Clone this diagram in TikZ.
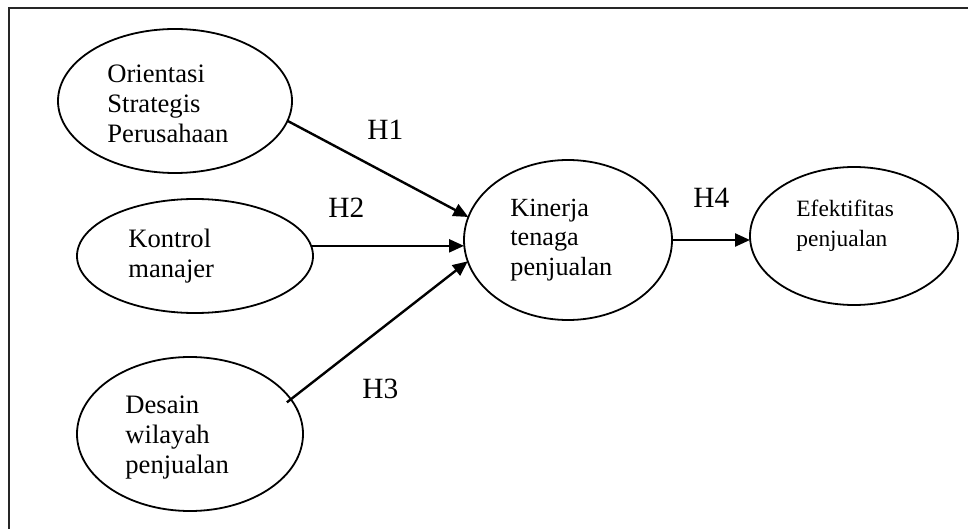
\documentclass[tikz,border=0pt]{standalone}
\usepackage{fontspec}
\setmainfont{Liberation Serif}
\usetikzlibrary{shapes.geometric,arrows.meta}
\begin{document}
\begin{tikzpicture}[x=0.5pt,y=-0.5pt,
  ell/.style={draw,ellipse,line width=0.9pt,inner sep=0pt,outer sep=0pt},
  txt/.style={anchor=base west,inner sep=0pt,font=\fontsize{13.3}{15}\selectfont},
  smalltxt/.style={anchor=base west,inner sep=0pt,font=\fontsize{11.7}{15}\selectfont},
  hlab/.style={anchor=base west,inner sep=0pt,font=\fontsize{14.7}{17}\selectfont},
  arr/.style={line width=1.2pt,-{Triangle[length=7.5pt,width=6.5pt]}}]
\useasboundingbox (0,0) rectangle (968,529);
\draw[line width=1pt,black!85] (968,8) coordinate (fr) -- (9,8) coordinate (fc) -- (9,529) coordinate (fb);
% ellipses
\node[ell,minimum width=117pt,minimum height=72pt] (o) at (175,101) {};
\node[ell,minimum width=118pt,minimum height=57pt] (ko) at (195,256) {};
\node[ell,minimum width=113pt,minimum height=77pt] (d) at (190,434) {};
\node[ell,minimum width=104pt,minimum height=80pt] (k) at (568,240) {};
\node[ell,minimum width=104pt,minimum height=69pt] (e) at (854,236) {};
% texts
\node[txt] (to) at (107,83) {\parbox[t]{70pt}{\raggedright Orientasi\\Strategis\\Perusahaan}};
\node[txt] (tko) at (128,248) {\parbox[t]{70pt}{\raggedright Kontrol\\manajer}};
\node[txt] (td) at (125,413) {\parbox[t]{70pt}{\raggedright Desain\\wilayah\\penjualan}};
\node[txt] (tk) at (510,217) {\parbox[t]{70pt}{\fontsize{13.1}{14.5}\selectfont\raggedright Kinerja\\tenaga\\penjualan}};
\node[smalltxt] (te) at (796,217) {\parbox[t]{70pt}{\raggedright Efektifitas\\penjualan}};
% labels
\node[hlab] (h1) at (367,140) {H1};
\node[hlab] (h2) at (328,218) {H2};
\node[hlab] (h3) at (362,398) {H3};
\node[hlab] (h4) at (693,207) {H4};
% arrows
\draw[arr] (o.-10.3) -- (k.167.6);
\draw[arr] (ko.5.3) -- (k.west |- ko.5.3);
\draw[arr,shorten <=-2.5pt] (d.19.5) -- (k.192);
\draw[arr] (k.east) -- (e.west |- k.east);
\end{tikzpicture}
\end{document}
